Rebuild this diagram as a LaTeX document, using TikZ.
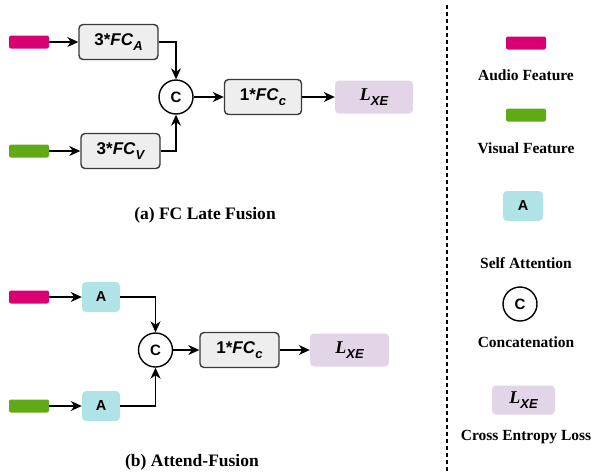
\documentclass[tikz,border=0pt]{standalone}
\usepackage{fontspec}
\setmainfont{Liberation Serif}
\setsansfont{Liberation Sans}
\usetikzlibrary{arrows.meta}

\definecolor{audiocol}{HTML}{D80073}
\definecolor{visualcol}{HTML}{60A917}
\definecolor{attncol}{HTML}{B0E3E6}
\definecolor{losscol}{HTML}{E1D5E7}
\definecolor{fcfill}{HTML}{EEEEEE}
\definecolor{fcline}{HTML}{36393D}

\newcommand{\lowidx}[1]{\raisebox{-.55ex}{\fontsize{13}{13}\selectfont\itshape #1}}
\newcommand{\lossname}{{\rmfamily\bfseries\itshape L}\lowidx{\sffamily\bfseries XE}}

\tikzset{
  feat/.style={minimum width=40pt, minimum height=13pt, rounded corners=2pt, inner sep=0pt},
  fcbox/.style={draw=fcline, fill=fcfill, line width=1.4pt, rounded corners=4pt, minimum width=79pt, minimum height=35pt, font=\sffamily\bfseries\fontsize{17}{17}\selectfont},
  attnbox/.style={fill=attncol, rounded corners=4pt, minimum width=38pt, minimum height=30pt, font=\sffamily\bfseries\fontsize{14.5}{14.5}\selectfont},
  lossbox/.style={fill=losscol, rounded corners=4pt, minimum width=78pt, minimum height=33pt, font=\fontsize{18}{18}\selectfont},
  catnode/.style={draw, circle, line width=1.4pt, minimum size=34pt, inner sep=0pt, font=\sffamily\bfseries\fontsize{15}{15}\selectfont},
  captxt/.style={font=\bfseries\fontsize{17.5}{17.5}\selectfont},
  legtxt/.style={font=\bfseries\fontsize{15.5}{15.5}\selectfont},
  flow/.style={->, line width=1.5pt},
}

\begin{document}
\begin{tikzpicture}[x=1pt, y=-1pt, >={Stealth[length=11pt, width=10pt, inset=3.5pt]}]
\useasboundingbox (0,0) rectangle (593,472);

% (a) FC late fusion
\node[feat, fill=audiocol] (audA) at (29,42) {};
\node[feat, fill=visualcol] (visA) at (29,151) {};
\node[fcbox] (fcA) at (118.5,42) {3*\textit{FC}\lowidx{A}};
\node[fcbox] (fcV) at (120.5,151) {3*\textit{FC}\lowidx{V}};
\node[catnode] (catA) at (176,97) {C};
\node[fcbox, minimum width=77pt] (fcCA) at (263,97) {1*\textit{FC}\lowidx{c}};
\node[lossbox] (lossA) at (374,97) {\lossname};

\draw[flow] (audA) -- (fcA);
\draw[flow] (visA) -- (fcV);
\draw[flow] (fcA.east) -| (catA.north);
\draw[flow] (fcV.east) -| (catA.south);
\draw[flow] (catA) -- (fcCA);
\draw[flow] (fcCA) -- (lossA);

\node[captxt] (capA) at (205,215) {(a) FC Late Fusion};

% (b) attend-fusion
\node[feat, fill=audiocol] (audB) at (29,297) {};
\node[feat, fill=visualcol] (visB) at (29,406) {};
\node[attnbox] (attA) at (101,297) {A};
\node[attnbox] (attV) at (101,406) {A};
\node[catnode] (catB) at (155.5,350) {C};
\node[fcbox] (fcCB) at (239.5,350) {1*\textit{FC}\lowidx{c}};
\node[lossbox, minimum width=79pt] (lossB) at (349.5,350) {\lossname};

\draw[flow] (audB) -- (attA);
\draw[flow] (visB) -- (attV);
\draw[flow] (attA.east) -| (catB.north);
\draw[flow] (attV.east) -| (catB.south);
\draw[flow] (catB) -- (fcCB);
\draw[flow] (fcCB) -- (lossB);

\node[captxt] (capB) at (192,462) {(b) Attend-Fusion};

% legend
\coordinate (divtop) at (447,5);
\coordinate (divbot) at (447,472);
\draw[line width=1.4pt, dash pattern=on 4pt off 3pt] (divtop) -- (divbot);

\node[feat, fill=audiocol] (legAud) at (526,43) {};
\node[legtxt] (legAudTxt) at (526,75) {Audio Feature};
\node[feat, fill=visualcol] (legVis) at (526,115) {};
\node[legtxt] (legVisTxt) at (526,148) {Visual Feature};
\node[attnbox, minimum width=40pt] (legAtt) at (523,206) {A};
\node[legtxt] (legAttTxt) at (526,263) {Self Attention};
\node[catnode] (legCat) at (520,304) {C};
\node[legtxt] (legCatTxt) at (526,342) {Concatenation};
\node[lossbox, minimum width=63pt, minimum height=29pt] (legLoss) at (523.5,400) {\lossname};
\node[legtxt] (legLossTxt) at (526,437) {Cross Entropy Loss};

\end{tikzpicture}
\end{document}
